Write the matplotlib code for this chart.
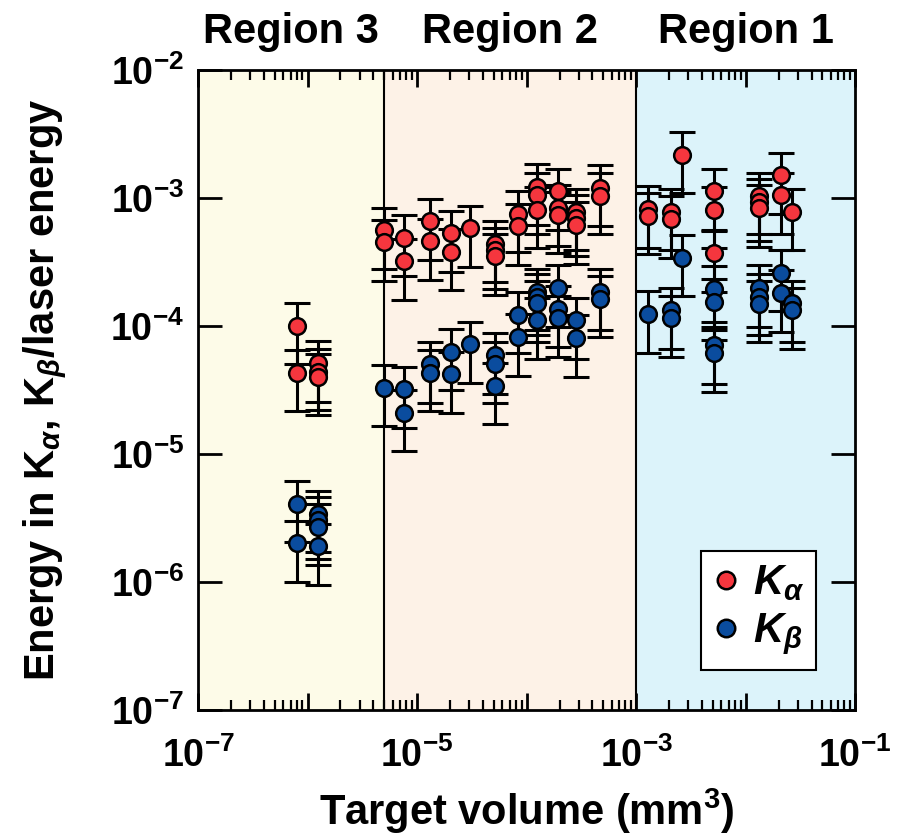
import matplotlib
matplotlib.use('Agg')
import matplotlib.pyplot as plt
from matplotlib.ticker import FixedLocator, NullFormatter
from matplotlib.transforms import blended_transform_factory
import numpy as np

# K-alpha points: target volume (mm^3), energy fraction
ka_x = [8.0e-7, 8.0e-7,
        1.25e-6, 1.25e-6, 1.25e-6,
        5.0e-6, 5.0e-6,
        7.6e-6, 7.6e-6,
        1.3e-5, 1.3e-5,
        2.05e-5, 2.05e-5,
        3.05e-5,
        5.15e-5, 5.15e-5, 5.15e-5,
        8.4e-5, 8.4e-5,
        1.25e-4, 1.25e-4, 1.25e-4,
        1.94e-4, 1.94e-4, 1.94e-4,
        2.83e-4, 2.83e-4, 2.83e-4,
        4.7e-4, 4.7e-4,
        1.29e-3, 1.29e-3,
        2.09e-3, 2.09e-3,
        2.63e-3,
        5.15e-3, 5.15e-3, 5.15e-3,
        1.33e-2, 1.33e-2, 1.33e-2,
        2.1e-2, 2.1e-2,
        2.66e-2]
ka_y = [1.0e-4, 4.3e-5,
        5.1e-5, 4.4e-5, 4.0e-5,
        5.6e-4, 4.5e-4,
        4.9e-4, 3.2e-4,
        6.6e-4, 4.6e-4,
        5.3e-4, 3.8e-4,
        5.8e-4,
        4.4e-4, 3.9e-4, 3.5e-4,
        7.5e-4, 6.0e-4,
        1.22e-3, 1.05e-3, 8.1e-4,
        1.13e-3, 8.4e-4, 7.4e-4,
        7.8e-4, 7.0e-4, 6.15e-4,
        1.2e-3, 1.04e-3,
        8.2e-4, 7.25e-4,
        7.8e-4, 6.85e-4,
        2.17e-3,
        1.13e-3, 8.1e-4, 3.7e-4,
        1.04e-3, 9.3e-4, 8.35e-4,
        1.51e-3, 1.05e-3,
        7.8e-4]

# K-beta points
kb_x = [8.0e-7, 8.0e-7,
        1.25e-6, 1.25e-6, 1.25e-6, 1.25e-6,
        5.0e-6,
        7.6e-6, 7.6e-6,
        1.3e-5, 1.3e-5,
        2.05e-5, 2.05e-5,
        3.05e-5,
        5.15e-5, 5.15e-5, 5.15e-5,
        8.4e-5, 8.4e-5,
        1.25e-4, 1.25e-4, 1.25e-4, 1.25e-4,
        1.94e-4, 1.94e-4, 1.94e-4,
        2.83e-4, 2.83e-4,
        4.7e-4, 4.7e-4,
        1.29e-3,
        2.09e-3, 2.09e-3,
        2.63e-3,
        5.15e-3, 5.15e-3, 5.15e-3, 5.15e-3,
        1.33e-2, 1.33e-2, 1.33e-2,
        2.1e-2, 2.1e-2,
        2.66e-2, 2.66e-2]
kb_y = [4.1e-6, 2.0e-6,
        3.4e-6, 3.05e-6, 2.7e-6, 1.9e-6,
        3.3e-5,
        3.2e-5, 2.1e-5,
        5.0e-5, 4.3e-5,
        6.3e-5, 4.2e-5,
        7.2e-5,
        5.9e-5, 5.0e-5, 3.4e-5,
        1.22e-4, 8.2e-5,
        1.85e-4, 1.69e-4, 1.51e-4, 1.11e-4,
        1.98e-4, 1.36e-4, 1.15e-4,
        1.11e-4, 8.05e-5,
        1.85e-4, 1.63e-4,
        1.24e-4,
        1.33e-4, 1.15e-4,
        3.4e-4,
        1.95e-4, 1.54e-4, 7.1e-5, 6.15e-5,
        1.98e-4, 1.69e-4, 1.49e-4,
        2.6e-4, 1.81e-4,
        1.51e-4, 1.33e-4]

rel_err = 0.5  # +/- 50 %

region_edges = [1e-7, 5e-6, 1e-3, 1e-1]
region_names = ['Region 3', 'Region 2', 'Region 1']
region_colors = ['#fdfbe8', '#fdf2e7', '#dcf3fa']

plt.rcParams['font.family'] = ['Liberation Sans', 'DejaVu Sans']
plt.rcParams['font.weight'] = 'bold'
plt.rcParams['mathtext.fontset'] = 'custom'
plt.rcParams['mathtext.rm'] = 'Liberation Sans:bold'
plt.rcParams['mathtext.bf'] = 'Liberation Sans:bold'
plt.rcParams['mathtext.it'] = 'Liberation Sans:bold:italic'
plt.rcParams['mathtext.default'] = 'rm'

fig = plt.figure(figsize=(9.02, 8.39), dpi=100)
ax = fig.add_axes([0.2195, 0.1538, 0.7285, 0.7628])
ax.set_xscale('log')
ax.set_yscale('log')
ax.set_xlim(1e-7, 1e-1)
ax.set_ylim(1e-7, 1e-2)

for i in range(3):
    ax.axvspan(region_edges[i], region_edges[i + 1], color=region_colors[i], zorder=0, lw=0)
for e in region_edges[1:3]:
    ax.axvline(e, color='black', lw=1.5, zorder=1)

trans = blended_transform_factory(ax.transData, fig.transFigure)
for i in range(3):
    xc = np.sqrt(region_edges[i] * region_edges[i + 1])
    ax.text(xc, 0.962, region_names[i], transform=trans, ha='center', va='center',
            fontsize=30, fontweight='bold')

ka_x = np.array(ka_x); ka_y = np.array(ka_y)
kb_x = np.array(kb_x); kb_y = np.array(kb_y)

for xs, ys in [(ka_x, ka_y), (kb_x, kb_y)]:
    ax.errorbar(xs, ys, yerr=rel_err * ys, fmt='none', ecolor='black',
                elinewidth=2.2, capsize=9.5, capthick=2.2, zorder=2)

ax.plot(ka_x, ka_y, 'o', ms=12, mfc='#f5363e', mec='black', mew=1.8, zorder=3,
        label=r'$\mathit{K_\alpha}$')
ax.plot(kb_x, kb_y, 'o', ms=12, mfc='#0a4c9e', mec='black', mew=1.8, zorder=3,
        label=r'$\mathit{K_\beta}$')

ax.xaxis.set_major_locator(FixedLocator([10.0 ** k for k in range(-7, 0)]))
ax.xaxis.set_minor_locator(FixedLocator([m * 10.0 ** k for k in range(-7, -1) for m in range(2, 10)]))
ax.xaxis.set_minor_formatter(NullFormatter())
ax.set_xticklabels([(r'$10^{%d}$' % k) if k % 2 else '' for k in range(-7, 0)])
ax.yaxis.set_major_locator(FixedLocator([10.0 ** k for k in range(-7, -1)]))
ax.yaxis.set_minor_locator(FixedLocator([]))
ax.set_yticklabels([r'$10^{%d}$' % k for k in range(-7, -1)])

ax.tick_params(which='both', direction='in', top=True, right=True, labelsize=27, width=2)
ax.tick_params(axis='x', which='major', length=12, pad=20)
ax.tick_params(axis='x', which='minor', length=7, width=1.6)
ax.tick_params(axis='y', which='major', length=17, pad=10)
for s in ax.spines.values():
    s.set_linewidth(2)

ax.set_xlabel(r'Target volume (mm$^3$)', fontsize=30, fontweight='bold', labelpad=8)
ax.set_ylabel(r'Energy in K$_\mathit{\alpha}$, K$_\mathit{\beta}$/laser energy', fontsize=30,
              fontweight='bold', labelpad=30)

leg = ax.legend(loc='lower right', bbox_to_anchor=(0.941, 0.0625), borderaxespad=0,
                fontsize=30, frameon=True, fancybox=False, framealpha=1, edgecolor='black',
                handlelength=0.6, handletextpad=0.35, borderpad=0.3, labelspacing=0.2,
                markerscale=1.05)
leg.get_frame().set_linewidth(1.5)

fig.savefig('out.png', dpi=100)
